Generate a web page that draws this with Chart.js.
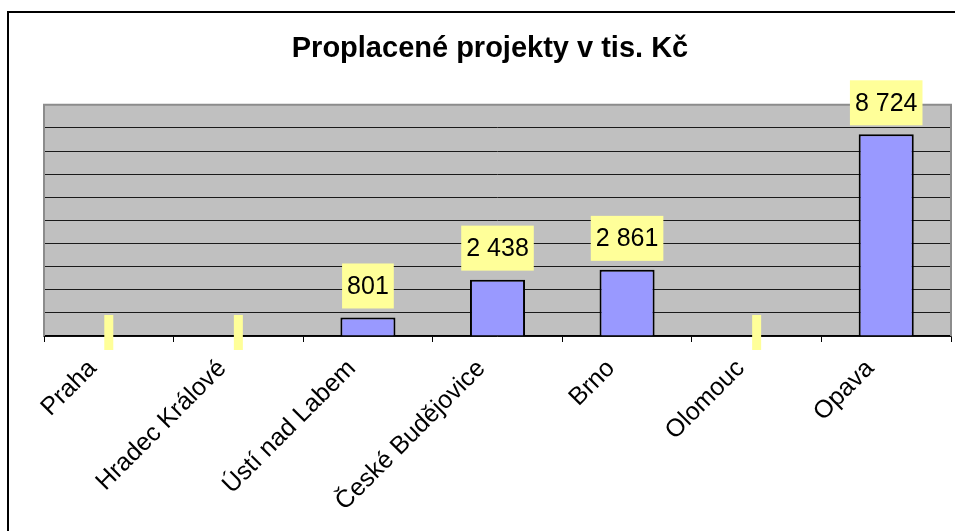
<!DOCTYPE html>
<html><head><meta charset="utf-8">
<script src="https://cdn.jsdelivr.net/npm/chart.js@4"></script>
<style>html,body{margin:0;padding:0;background:#fff}#wrap{width:955px;height:531px;position:relative}</style>
</head><body><div id="wrap"><canvas id="c" width="955" height="531"></canvas></div>
<script>
const TITLE = 'Proplacené projekty v tis. Kč';
const categories = ['Praha', 'Hradec Králové', 'Ústí nad Labem', 'České Budějovice', 'Brno', 'Olomouc', 'Opava'];
const values = [0, 0, 801, 2438, 2861, 0, 8724];
const yMin = 0, yMax = 10000, yStep = 1000;

const FONT = '"Liberation Sans", Arial, sans-serif';
function fmt(v) { if (!v) return ''; return String(v).replace(/\B(?=(\d{3})+(?!\d))/g, ' '); }

const framePlugin = {
  id: 'frame',
  beforeDraw(chart) {
    const { ctx, chartArea: a } = chart;
    ctx.save();
    ctx.fillStyle = '#fff'; ctx.fillRect(0, 0, chart.width, chart.height);
    ctx.fillStyle = '#C0C0C0'; ctx.fillRect(a.left, a.top, a.right - a.left, a.bottom - a.top);
    ctx.lineWidth = 2; ctx.strokeStyle = '#000';
    ctx.strokeRect(8, 12, chart.width + 40, chart.height + 40);
    ctx.restore();
  },
  beforeDatasetsDraw(chart) {
    const { ctx, chartArea: a } = chart;
    ctx.save();
    ctx.strokeStyle = '#8c8c8c'; ctx.lineWidth = 2;
    ctx.beginPath();
    ctx.moveTo(a.left, a.bottom); ctx.lineTo(a.left, a.top); ctx.lineTo(a.right, a.top); ctx.lineTo(a.right, a.bottom);
    ctx.stroke();
    ctx.restore();
  },
  afterDatasetsDraw(chart) {
    const { ctx } = chart;
    const meta = chart.getDatasetMeta(0);
    ctx.save();
    ctx.font = '25px ' + FONT;
    ctx.textAlign = 'center'; ctx.textBaseline = 'middle';
    meta.data.forEach((bar, i) => {
      const t = fmt(chart.data.datasets[0].data[i]);
      ctx.fillStyle = '#FFFF99';
      if (t) {
        const w = ctx.measureText(t).width + 10, h = 45;
        const x = bar.x - w / 2, y = bar.y - 9 - h;
        ctx.fillRect(x, y, w, h);
        ctx.fillStyle = '#000';
        ctx.fillText(t, bar.x, y + h / 2 + 1);
      } else {
        ctx.fillRect(bar.x - 4.5, bar.y - 21, 9, 35);
      }
    });
    ctx.restore();
  }
};

new Chart(document.getElementById('c'), {
  type: 'bar',
  data: {
    labels: categories,
    datasets: [{
      data: values,
      backgroundColor: '#9999FF',
      borderColor: '#000',
      borderWidth: 2,
      borderSkipped: 'bottom',
      categoryPercentage: 1,
      barPercentage: 0.425
    }]
  },
  plugins: [framePlugin],
  options: {
    responsive: false,
    animation: false,
    devicePixelRatio: 1,
    layout: { padding: { left: 29, right: 4, top: 0, bottom: 0 } },
    plugins: {
      legend: { display: false },
      tooltip: { enabled: false },
      title: {
        display: true,
        text: TITLE,
        color: '#000',
        font: { family: FONT, size: 29, weight: 'bold', lineHeight: 1.2 },
        padding: { top: 32, bottom: 38 }
      }
    },
    scales: {
      x: {
        offset: true,
        grid: { offset: true, drawOnChartArea: false, drawTicks: true, tickLength: 6, color: '#000', lineWidth: 1 },
        border: { display: true, color: '#000', width: 1.5 },
        ticks: {
          color: '#000', font: { family: FONT, size: 25 },
          maxRotation: 45, minRotation: 45, autoSkip: false,
          padding: 12, labelOffset: -16
        },
        afterFit(scale) { scale.height = 195; }
      },
      y: {
        min: yMin, max: yMax,
        grid: { color: '#1a1a1a', lineWidth: 1, drawTicks: false },
        border: { display: false },
        ticks: { display: false, stepSize: yStep },
        afterFit(scale) { scale.width = 15; }
      }
    }
  }
});
</script>
</body></html>
